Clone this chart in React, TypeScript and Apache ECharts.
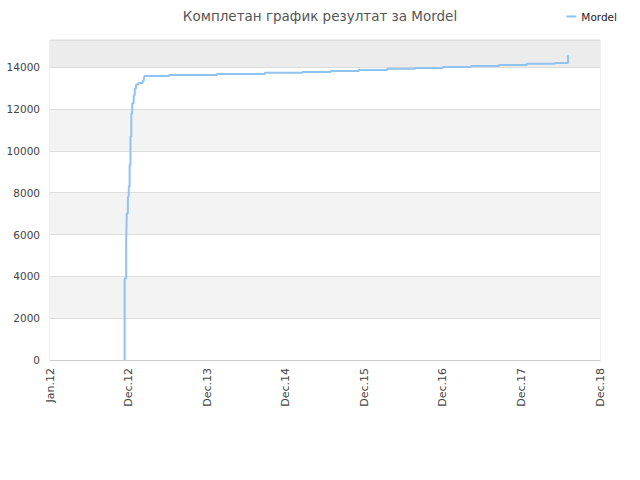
import React, { useEffect, useRef } from "react";
import * as echarts from "echarts";

// Step dates (when the total changed) and the total from that date on
const stepDates = [
  "2012-12-13", "2012-12-13", "2012-12-20", "2012-12-23", "2012-12-28",
  "2013-01-01", "2013-01-05", "2013-01-09", "2013-01-13", "2013-01-17",
  "2013-01-24", "2013-01-29", "2013-02-04", "2013-02-15", "2013-03-07",
  "2013-03-12", "2013-03-15", "2013-07-07", "2014-02-15", "2014-09-26",
  "2015-03-20", "2015-07-29", "2015-12-07", "2016-04-16", "2016-08-24",
  "2017-01-01", "2017-05-11", "2017-09-18", "2018-01-26", "2018-06-05",
  "2018-08-05",
];
const stepValues = [
  0, 3900, 5650, 7020, 7800,
  8280, 9320, 10670, 11790, 12280,
  12660, 12980, 13170, 13250, 13350,
  13460, 13580, 13630, 13680, 13730,
  13775, 13820, 13870, 13920, 13965,
  14015, 14060, 14110, 14160, 14205,
  14570,
];
const xTickLabels = ["Jan.12", "Dec.12", "Dec.13", "Dec.14", "Dec.15", "Dec.16", "Dec.17", "Dec.18"];
const yMax = 15300;

const FONT = "DejaVu Sans";
const START = Date.UTC(2012, 0, 1);
const YEAR_MS = 365.25 * 86400000;

// years since Jan 1 2012
const toYears = (s: string) => {
  const [y, m, d] = s.split("-").map(Number);
  return (Date.UTC(y, m - 1, d) - START) / YEAR_MS;
};

const App: React.FC = () => {
  const chartRef = useRef<HTMLDivElement>(null);

  useEffect(() => {
    if (!chartRef.current) return;
    const chart = echarts.init(chartRef.current, null, { renderer: "svg" });

    const data = stepDates.map((d, i) => [toYears(d), stepValues[i]]);

    const option: echarts.EChartsOption = {
      animation: false,
      backgroundColor: "#fff",
      textStyle: { fontFamily: FONT },
      title: {
        text: "Комплетан график резултат за Mordel",
        left: "center",
        top: 4,
        textStyle: {
          fontFamily: FONT,
          fontSize: 13.5,
          fontWeight: "normal",
          color: "#555",
        },
      },
      legend: {
        right: 18,
        top: 6,
        itemWidth: 10,
        itemHeight: 2,
        itemGap: 8,
        textStyle: { fontFamily: FONT, fontSize: 10.5, color: "#222" },
        data: ["Mordel"],
      },
      grid: {
        left: 50,
        right: 40,
        top: 40,
        bottom: 120,
        show: true,
        borderColor: "#ddd",
        borderWidth: 1,
      },
      xAxis: {
        type: "value",
        min: 0,
        max: xTickLabels.length - 1,
        interval: 1,
        axisLine: { show: true, lineStyle: { color: "#ccc" } },
        axisTick: { show: false },
        splitLine: { show: false },
        axisLabel: {
          rotate: 90,
          fontFamily: FONT,
          fontSize: 11,
          color: "#444",
          margin: 8,
          formatter: (v: number) => xTickLabels[Math.round(v)] ?? "",
        },
      },
      yAxis: {
        type: "value",
        min: 0,
        max: yMax,
        interval: 2000,
        axisLine: { show: false },
        axisTick: { show: false },
        axisLabel: {
          fontFamily: FONT,
          fontSize: 10.5,
          color: "#444",
          margin: 10,
          showMaxLabel: false,
          formatter: (v: number) => String(v),
        },
        splitLine: { lineStyle: { color: "#ddd" } },
        splitArea: {
          show: true,
          areaStyle: {
            color: ["#fff", "#f3f3f3", "#fff", "#f3f3f3", "#fff", "#f3f3f3", "#fff", "#ececec"],
          },
        },
      },
      series: [
        {
          name: "Mordel",
          type: "line",
          step: "end",
          symbol: "none",
          data,
          lineStyle: { color: "#90c3f2", width: 2 },
          itemStyle: { color: "#90c3f2" },
        },
      ],
    };

    chart.setOption(option);
    return () => {
      chart.dispose();
    };
  }, []);

  return (
    <div
      ref={chartRef}
      style={{ position: "absolute", left: 0, top: 0, width: "640px", height: "480px" }}
    />
  );
};

export default App;
